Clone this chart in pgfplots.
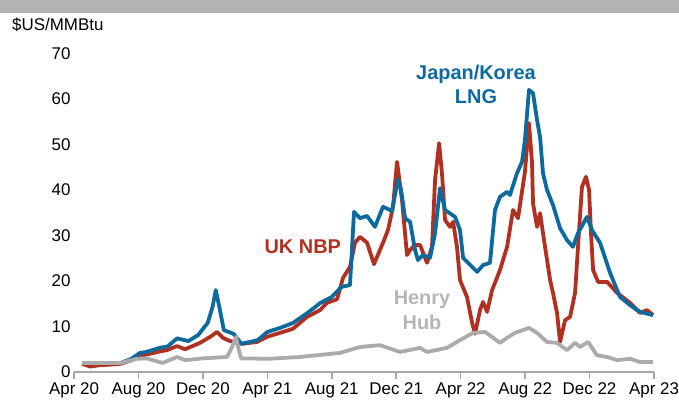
\documentclass[border=0pt]{standalone}
\usepackage{fontspec}
\setmainfont{Liberation Sans}
\usepackage{pgfplots}
\usepackage{pgfplotstable}
\pgfplotsset{compat=1.18}
\definecolor{jkm}{HTML}{0E6A9C}
\definecolor{nbp}{HTML}{B03122}
\definecolor{hh}{HTML}{ABABAB}
\definecolor{hhtxt}{HTML}{B5B5B5}
\definecolor{band}{HTML}{B3B3B3}
\definecolor{axgrey}{HTML}{A6A6A6}

% x = months since April 2020
\pgfplotstableread{
m v
0.5 2.0
1.6 2.0
2.9 2.0
3.5 2.8
4.1 4.2
4.5 4.4
5.3 5.3
5.8 5.6
6.4 7.4
7.1 6.8
7.7 8.1
8.3 10.8
8.6 14.3
8.8 18.0
9.06 13.6
9.3 9.2
9.9 8.4
10.4 6.2
11.4 7.0
12.0 8.8
12.8 9.7
13.6 10.8
14.5 13.0
15.3 15.2
16.0 16.5
16.6 18.7
17.13 19.1
17.38 35.2
17.75 33.8
18.19 34.3
18.68 31.9
19.18 36.3
19.74 35.4
20.11 42.4
20.3 40.0
20.55 33.8
20.86 33.0
21.17 26.8
21.35 24.6
21.66 25.7
22.1 25.1
22.41 30.5
22.72 40.4
23.03 35.6
23.65 34.1
23.96 31.2
24.15 25.1
24.71 23.1
25.02 22.0
25.39 23.5
25.82 24.0
26.13 35.6
26.44 38.5
26.88 39.6
27.06 38.9
27.5 43.7
27.81 46.2
27.99 51.0
28.24 62.0
28.49 61.3
28.74 55.4
28.93 51.6
29.11 43.7
29.36 40.0
29.73 36.7
30.17 31.6
30.6 29.0
30.97 27.5
31.28 30.5
31.84 34.1
32.15 31.2
32.65 28.4
33.27 21.8
33.89 16.5
34.51 14.7
35.13 13.2
35.94 12.5
}\jkmdata

\pgfplotstableread{
m v
0.5 1.8
1.0 1.2
1.6 1.5
2.2 1.6
2.9 1.8
3.5 2.5
4.1 3.5
5.3 4.5
5.77 4.8
6.39 5.7
6.89 5.0
7.82 6.4
8.44 7.7
8.88 8.8
9.25 7.5
9.68 6.8
10.43 6.2
11.36 6.6
12.04 7.8
12.79 8.6
13.59 9.5
14.46 12.1
15.27 13.6
15.7 15.2
16.33 16.0
16.7 20.7
17.13 23.1
17.44 28.4
17.75 29.7
18.19 28.4
18.62 23.7
19.12 27.9
19.49 31.2
19.8 36.3
20.05 46.2
20.36 37.8
20.67 25.7
20.86 26.8
21.17 27.9
21.48 27.9
21.91 24.0
22.22 27.5
22.41 42.2
22.66 50.3
22.84 43.7
23.03 33.4
23.34 31.9
23.53 33.0
23.77 27.5
23.96 20.2
24.39 16.5
24.71 10.8
24.89 8.4
25.2 13.6
25.39 15.4
25.64 13.2
25.95 18.0
26.44 22.4
26.88 27.5
27.25 35.6
27.56 33.8
27.99 44.0
28.24 54.7
28.43 45.9
28.49 37.1
28.74 31.9
28.93 34.9
29.11 30.5
29.55 20.2
29.73 17.4
29.98 13.0
30.17 6.6
30.48 11.4
30.79 12.1
31.1 17.4
31.35 31.2
31.53 40.7
31.78 42.9
31.97 40.0
32.09 30.5
32.22 22.4
32.53 19.8
33.09 19.8
33.71 17.4
34.51 15.2
35.13 13.0
35.57 13.6
35.94 12.5
}\nbpdata

\pgfplotstableread{
m v
0.5 2.0
2.9 2.0
3.9 2.9
4.5 3.0
5.5 2.0
6.4 3.3
6.9 2.6
8.0 3.0
9.5 3.3
9.81 5.5
10.06 7.7
10.18 5.5
10.37 3.0
12.04 2.9
14.03 3.3
16.51 4.2
17.75 5.5
18.99 5.9
20.24 4.4
21.48 5.3
21.91 4.4
23.15 5.3
23.96 7.0
24.77 8.6
25.51 8.8
25.95 7.7
26.44 6.4
26.88 7.5
27.37 8.6
28.24 9.7
28.74 8.6
29.36 6.6
29.98 6.4
30.6 4.8
31.1 6.4
31.41 5.5
31.91 6.6
32.46 3.7
33.09 3.3
33.71 2.6
34.51 2.9
35.13 2.2
35.94 2.2
}\hhdata

\begin{document}
\begin{tikzpicture}
\fill[band] (0bp,390bp) rectangle (679bp,403bp);
\node[anchor=west, font=\fontsize{17}{20}\selectfont, inner sep=0pt] at (12bp,378bp) {\$US/MMBtu};
\begin{axis}[
  at={(74bp,31bp)}, anchor=south west,
  scale only axis, width=580bp, height=318.5bp,
  xmin=0, xmax=36, ymin=0, ymax=70,
  clip=false,
  axis x line*=bottom, axis y line*=left,
  y axis line style={draw=none},
  x axis line style={axgrey, line width=1.5bp, -},
  ytick={0,10,...,70},
  ytick style={draw=none},
  xtick={0,4,...,36},
  xticklabels={Apr 20,Aug 20,Dec 20,Apr 21,Aug 21,Dec 21,Apr 22,Aug 22,Dec 22,Apr 23},
  xtick style={axgrey, line width=1.5bp},
  xtick align=outside,
  major tick length=7bp,
  tick label style={font=\fontsize{17}{20}\selectfont},
  /pgf/number format/assume math mode=true,
  yticklabel style={anchor=east},
]
\addplot[nbp, line width=3.8bp, line join=round] table[x=m,y=v] {\nbpdata};
\addplot[jkm, line width=3.8bp, line join=round] table[x=m,y=v] {\jkmdata};
\addplot[hh, line width=3.8bp, line join=round] table[x=m,y=v] {\hhdata};
\node[font=\bfseries\fontsize{20}{24}\selectfont, text=jkm, align=center] at (axis cs:24.95,63.3) {Japan/Korea\\LNG};
\node[font=\bfseries\fontsize{20}{24}\selectfont, text=nbp] at (axis cs:14.2,27.5) {UK NBP};
\node[font=\bfseries\fontsize{20}{25}\selectfont, text=hhtxt, align=center] at (axis cs:21.6,13.6) {Henry\\Hub};
\end{axis}
\pgfresetboundingbox
\path (0bp,0bp) rectangle (679bp,403bp);
\end{tikzpicture}
\end{document}
